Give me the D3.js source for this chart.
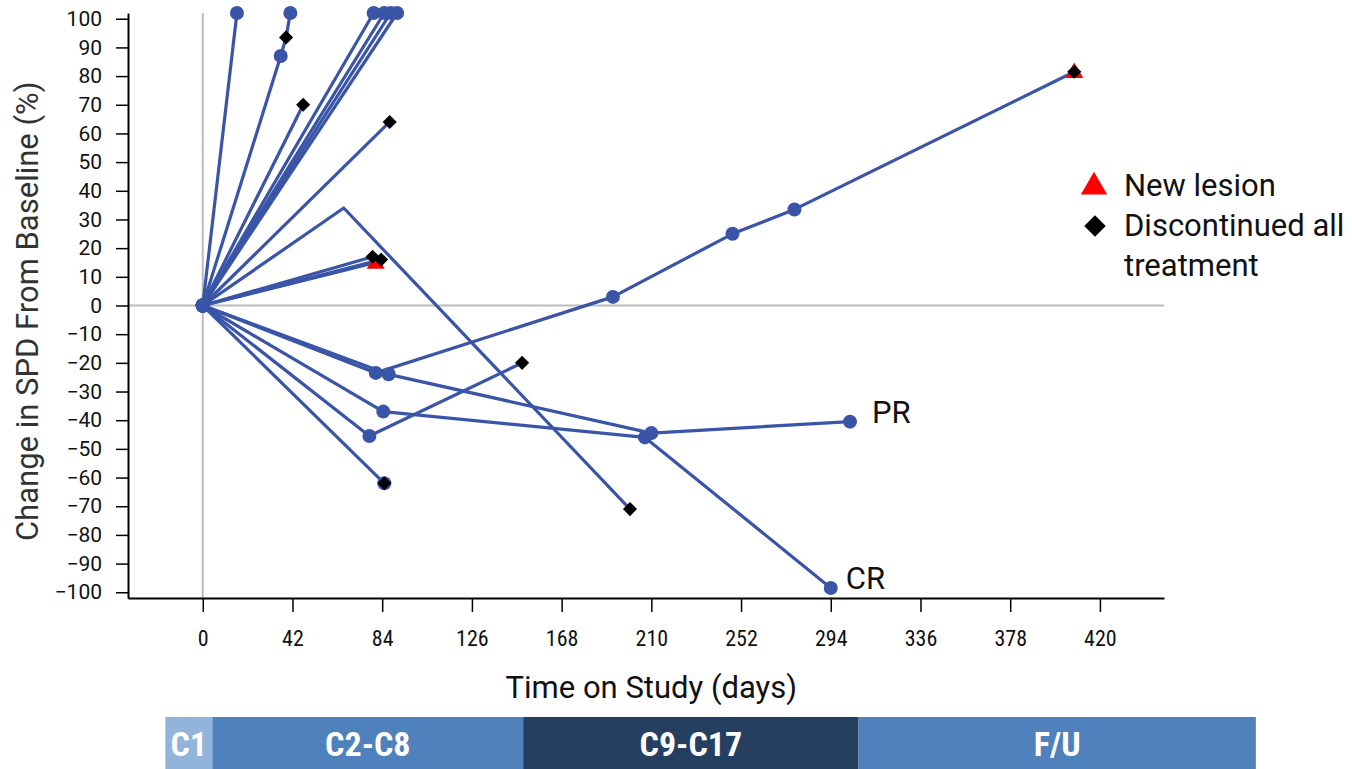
<!DOCTYPE html>
<html>
<head>
<meta charset="utf-8">
<script src="https://cdn.jsdelivr.net/npm/d3@7"></script>
<style>
  body { margin: 0; background: #fff; }
  svg { display: block; }
</style>
</head>
<body>
<svg id="chart" width="1352" height="769"></svg>
<script>
// Axis ticks
const dayTicks = [0, 42, 84, 126, 168, 210, 252, 294, 336, 378, 420];
const pctTicks = d3.range(-100, 101, 10);

// One entry per patient: study day of each assessment and % change in SPD
const lineDays = [
  [0, 16],
  [0, 36.5, 39, 41],
  [0, 47],
  [0, 80],
  [0, 85],
  [0, 88],
  [0, 91],
  [0, 87.5],
  [0, 66, 200],
  [0, 79.5],
  [0, 81],
  [0, 83.5],
  [0, 81, 192, 248, 277, 408],
  [0, 87, 210, 303],
  [0, 84.5, 207, 294],
  [0, 78, 149.5],
  [0, 85]
];
const lineChange = [
  [0, 102],
  [0, 87, 93.5, 102],
  [0, 70],
  [0, 102],
  [0, 102],
  [0, 102],
  [0, 102],
  [0, 64],
  [0, 34, -71],
  [0, 17],
  [0, 15],
  [0, 16],
  [0, -23.5, 3, 25, 33.5, 81.5],
  [0, -24, -44.5, -40.5],
  [0, -37, -46, -98.5],
  [0, -45.5, -20],
  [0, -62]
];
// Marker at each assessment: o = assessment, d = discontinued all treatment,
// t = new lesion, td = new lesion + discontinued, "" = no marker
const lineMarks = [
  ["o", "o"],
  ["o", "o", "d", "o"],
  ["o", "d"],
  ["o", "o"],
  ["o", "o"],
  ["o", "o"],
  ["o", "o"],
  ["o", "d"],
  ["o", "", "d"],
  ["o", "d"],
  ["o", "t"],
  ["o", "d"],
  ["o", "o", "o", "o", "o", "td"],
  ["o", "o", "o", "o"],
  ["o", "o", "o", "o"],
  ["o", "o", "d"],
  ["o", "od"]
];

// Best response labels at the last assessment of a patient
const responseText = ["PR", "CR"];
const responseLine = [13, 14];
const responseGap = [22, 15];

// Treatment phase band under the axis (study days)
const phaseNames = ["C1", "C2-C8", "C9-C17", "F/U"];
const phaseStart = [-17.5, 4.5, 150, 307];
const phaseEnd = [4.5, 150, 307, 493];
const phaseColors = ["#93b4da", "#4f81bd", "#253f60", "#4f81bd"];

const legendText = [["New lesion"], ["Discontinued all", "treatment"]];

const lineColor = "#3a55a7";
const svg = d3.select("#chart");

const x = d3.scaleLinear().domain([-35, 450]).range([128, 1164]);
const y = d3.scaleLinear().domain([-102, 102]).range([598, 13]);

// Reference lines at day 0 and 0% change
svg.append("line")
  .attr("x1", x(-35)).attr("x2", x(450))
  .attr("y1", y(0)).attr("y2", y(0))
  .attr("stroke", "#bcbcbc").attr("stroke-width", 2);
svg.append("line")
  .attr("x1", x(0)).attr("x2", x(0))
  .attr("y1", y(102)).attr("y2", y(-102))
  .attr("stroke", "#bcbcbc").attr("stroke-width", 2);

// Axes
const yAxis = svg.append("g")
  .attr("transform", `translate(${x(-35)},0)`)
  .call(d3.axisLeft(y).tickValues(pctTicks).tickSize(12).tickSizeOuter(0).tickPadding(14));
yAxis.selectAll("text")
  .attr("font-family", "Roboto, sans-serif").attr("font-size", 21).attr("fill", "#111");

const xAxis = svg.append("g")
  .attr("transform", `translate(0,${y(-102)})`)
  .call(d3.axisBottom(x).tickValues(dayTicks).tickSize(14).tickSizeOuter(0).tickPadding(18));
xAxis.selectAll("text")
  .attr("font-family", "'Liberation Sans Narrow', 'Roboto Condensed', Roboto, sans-serif")
  .attr("font-size", 22).attr("fill", "#111");

[yAxis, xAxis].forEach(g => {
  g.select(".domain").attr("stroke", "#000").attr("stroke-width", 2);
  g.selectAll(".tick line").attr("stroke", "#000").attr("stroke-width", 1.5);
});

// Axis titles
svg.append("text")
  .attr("transform", `translate(38,${y(-2)}) rotate(-90)`)
  .attr("text-anchor", "middle")
  .attr("font-family", "Roboto, sans-serif").attr("font-size", 31).attr("fill", "#333")
  .text("Change in SPD From Baseline (%)");
svg.append("text")
  .attr("x", x(210)).attr("y", 698)
  .attr("text-anchor", "middle")
  .attr("font-family", "Roboto, sans-serif").attr("font-size", 31).attr("fill", "#111")
  .text("Time on Study (days)");

// Patient trajectories
const patients = lineDays.map((d, i) =>
  d.map((day, j) => ({ day, chg: lineChange[i][j], mark: lineMarks[i][j] })));

const line = d3.line().x(p => x(p.day)).y(p => y(p.chg));
svg.append("g").selectAll("path")
  .data(patients).join("path")
  .attr("d", line)
  .attr("fill", "none")
  .attr("stroke", lineColor)
  .attr("stroke-width", 3.2)
  .attr("stroke-linejoin", "round");

const pts = patients.flat();

svg.append("g").selectAll("circle")
  .data(pts.filter(p => p.mark.includes("o")))
  .join("circle")
  .attr("cx", p => x(p.day)).attr("cy", p => y(p.chg))
  .attr("r", 7).attr("fill", lineColor);

const tri = d3.symbol().type(d3.symbolTriangle).size(140);
svg.append("g").selectAll("path")
  .data(pts.filter(p => p.mark.includes("t")))
  .join("path")
  .attr("d", tri)
  .attr("transform", p => `translate(${x(p.day)},${y(p.chg) + 1})`)
  .attr("fill", "#ff0000");

const dia = d3.symbol().type(d3.symbolSquare).size(100);
svg.append("g").selectAll("path")
  .data(pts.filter(p => p.mark.includes("d")))
  .join("path")
  .attr("d", dia)
  .attr("transform", p => `translate(${x(p.day)},${y(p.chg)}) rotate(45)`)
  .attr("fill", "#000");

// Response labels
svg.append("g").selectAll("text")
  .data(responseText.map((t, i) => {
    const p = patients[responseLine[i]];
    return { t, gap: responseGap[i], p: p[p.length - 1] };
  }))
  .join("text")
  .attr("x", d => x(d.p.day) + d.gap)
  .attr("y", d => y(d.p.chg) + 1)
  .attr("font-family", "Roboto, sans-serif").attr("font-size", 31).attr("fill", "#111")
  .text(d => d.t);

// Legend
const legend = svg.append("g").attr("transform", "translate(1094,185)");
legend.append("path")
  .attr("d", d3.symbol().type(d3.symbolTriangle).size(300))
  .attr("transform", "translate(0,2)")
  .attr("fill", "#ff0000");
legend.append("path")
  .attr("d", d3.symbol().type(d3.symbolSquare).size(230))
  .attr("transform", "translate(1,41) rotate(45)")
  .attr("fill", "#000");
legendText.forEach((lines, i) => {
  lines.forEach((s, k) => {
    legend.append("text")
      .attr("x", 30).attr("y", i * 40 + k * 40 + 11)
      .attr("font-family", "Roboto, sans-serif").attr("font-size", 31).attr("fill", "#111")
      .text(s);
  });
});

// Treatment phase band
const band = svg.append("g");
band.selectAll("rect")
  .data(phaseNames.map((n, i) => ({ n, s: phaseStart[i], e: phaseEnd[i], c: phaseColors[i] })))
  .join("rect")
  .attr("x", d => x(d.s)).attr("width", d => x(d.e) - x(d.s))
  .attr("y", 717).attr("height", 52)
  .attr("fill", d => d.c);
band.selectAll("text")
  .data(phaseNames.map((n, i) => ({ n, s: phaseStart[i], e: phaseEnd[i] })))
  .join("text")
  .attr("x", d => (x(d.s) + x(d.e)) / 2).attr("y", 756)
  .attr("text-anchor", "middle")
  .attr("font-family", "'Liberation Sans Narrow', 'Roboto Condensed', Arial, sans-serif")
  .attr("font-weight", "bold").attr("font-size", 34).attr("fill", "#fff")
  .text(d => d.n);
</script>
</body>
</html>
